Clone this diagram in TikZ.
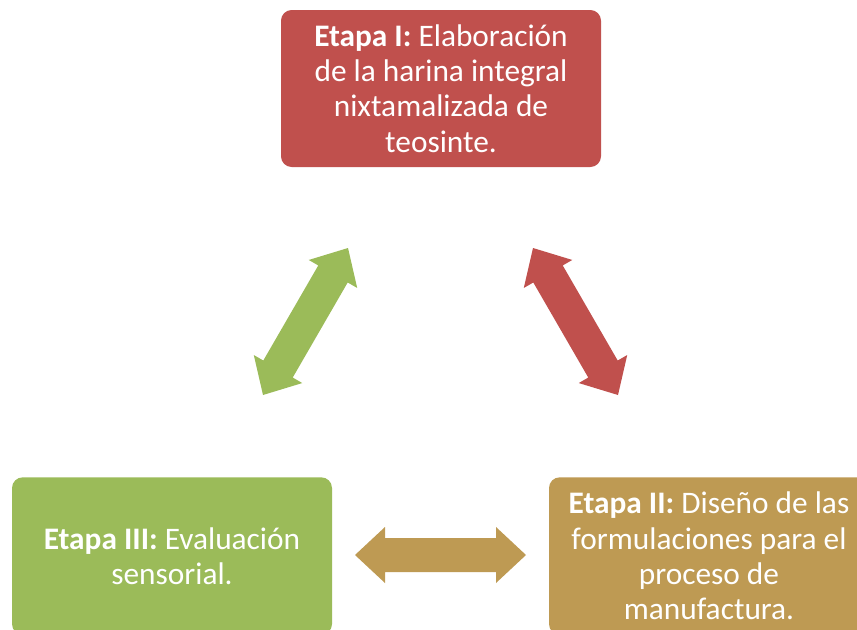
\documentclass[tikz,border=0pt]{standalone}
\usepackage{fontspec}
\setmainfont{Carlito}
\usetikzlibrary{calc}
\definecolor{cred}{HTML}{C0504D}
\definecolor{cgreen}{HTML}{9BBB59}
\definecolor{ctan}{HTML}{BE9A53}
\tikzset{
  stage/.style={rounded corners=8pt, minimum width=240pt, minimum height=118pt,
    inner sep=0pt, text=white, align=center,
    font=\fontsize{23.5}{26.6}\selectfont},
}
\newcommand{\dblarrow}[3]{%
  \fill[#3] (#1)
    -- ($(#1)!22.5pt!(#2)!21pt!90:(#2)$)
    -- ($(#1)!22.5pt!(#2)!12.75pt!90:(#2)$)
    -- ($(#2)!22.5pt!(#1)!12.75pt!-90:(#1)$)
    -- ($(#2)!22.5pt!(#1)!21pt!-90:(#1)$)
    -- (#2)
    -- ($(#2)!22.5pt!(#1)!21pt!90:(#1)$)
    -- ($(#2)!22.5pt!(#1)!12.75pt!90:(#1)$)
    -- ($(#1)!22.5pt!(#2)!12.75pt!-90:(#2)$)
    -- ($(#1)!22.5pt!(#2)!21pt!-90:(#2)$)
    -- cycle;}
\begin{document}
\begin{tikzpicture}[x=0.75pt,y=-0.75pt]
\useasboundingbox (0,0) rectangle (857,629);
\clip (0,0) rectangle (857,629);
\node[stage, fill=cred, minimum height=117.75pt] (s1) at (441,88.5)
  {\textbf{Etapa I:} Elaboración\\de la harina integral\\nixtamalizada de\\teosinte.};
\node[stage, fill=ctan] (s2) at (709,556)
  {\textbf{Etapa II:} Diseño de las\\formulaciones para el\\proceso de\\manufactura.};
\node[stage, fill=cgreen] (s3) at (172,556)
  {\textbf{Etapa III:} Evaluación\\sensorial.};
\coordinate (ga) at (263,395);
\coordinate (gb) at (348,248);
\coordinate (ra) at (533,248);
\coordinate (rb) at (618,395);
\coordinate (ta) at (355,555);
\coordinate (tb) at (526,555);
\dblarrow{ga}{gb}{cgreen}
\dblarrow{ra}{rb}{cred}
\dblarrow{ta}{tb}{ctan}
\end{tikzpicture}
\end{document}
